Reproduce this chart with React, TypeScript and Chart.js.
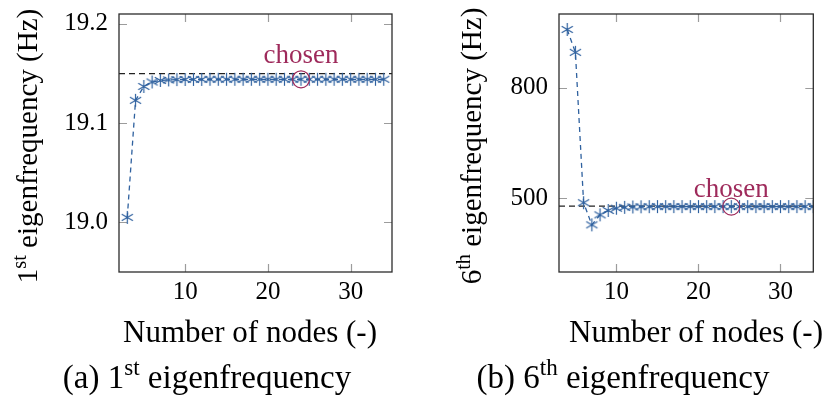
import React, { useEffect, useRef } from "react";
import { Chart, registerables } from "chart.js";

Chart.register(...registerables);

// ---------------- data ----------------
const NODES_A = [3, 4, 5, 6, 7, 8, 9, 10, 11, 12, 13, 14, 15, 16, 17, 18, 19, 20, 21, 22, 23, 24, 25, 26, 27, 28, 29, 30, 31, 32, 33, 34];
const FREQ_1ST = [
  19.005, 19.123, 19.137, 19.1415, 19.143, 19.1436, 19.1439, 19.144, 19.1441, 19.1441, 19.1442,
  19.1442, 19.1442, 19.1442, 19.1442, 19.1442, 19.1442, 19.1442, 19.1442, 19.1442, 19.1442, 19.1442,
  19.1442, 19.1442, 19.1442, 19.1442, 19.1442, 19.1442, 19.1442, 19.1442, 19.1442, 19.1442,
];
const REF_1ST = 19.15;

const NODES_B = [4, 5, 6, 7, 8, 9, 10, 11, 12, 13, 14, 15, 16, 17, 18, 19, 20, 21, 22, 23, 24, 25, 26, 27, 28, 29, 30, 31, 32, 33, 34];
const FREQ_6TH = [
  958, 896, 488, 428, 455, 467, 473, 475.5, 476.5, 477, 477.3, 477.5,
  477.5, 477.5, 477.5, 477.5, 477.5, 477.5, 477.5, 477.5, 477.5, 477.5, 477.5, 477.5,
  477.5, 477.5, 477.5, 477.5, 477.5, 477.5, 477.5,
];
const REF_6TH = 479;

const CHOSEN_NODES = 24;
const CHOSEN_LABEL = "chosen";

const X_TICKS = [10, 20, 30];
const Y_TICKS_A = [19.0, 19.1, 19.2];
const Y_TICKS_B = [500, 800];

const X_RANGE_A = [2, 35];
const Y_RANGE_A = [18.95, 19.21];
const X_RANGE_B = [3, 34];
const Y_RANGE_B = [300, 1000];

const X_TITLE = "Number of nodes (-)";
const Y_TITLE_A = [{ t: "1" }, { t: "st", sup: true }, { t: " eigenfrequency (Hz)" }];
const Y_TITLE_B = [{ t: "6" }, { t: "th", sup: true }, { t: " eigenfrequency (Hz)" }];
const CAPTION_A = [{ t: "(a) 1" }, { t: "st", sup: true }, { t: " eigenfrequency" }];
const CAPTION_B = [{ t: "(b) 6" }, { t: "th", sup: true }, { t: " eigenfrequency" }];

// ---------------- styles ----------------
const FONT = "'Liberation Serif', 'Times New Roman', serif";
const BLUE = "#2f619f";
const CRIMSON = "#9e2a5b";
const FRAME = "#2b2b2b";
const TICK = "#9c9c9c";

type Part = { t: string; sup?: boolean };

function makeAsterisk(r: number, color: string, lw: number) {
  const c = document.createElement("canvas");
  const s = Math.ceil(2 * r + 2 * lw) + 1;
  c.width = s;
  c.height = s;
  const ctx = c.getContext("2d")!;
  ctx.strokeStyle = color;
  ctx.lineWidth = lw;
  ctx.lineCap = "butt";
  const cx = s / 2;
  const cy = s / 2;
  ctx.beginPath();
  for (let k = 0; k < 3; k++) {
    const a = Math.PI / 2 + (k * Math.PI) / 3;
    ctx.moveTo(cx + r * Math.cos(a), cy + r * Math.sin(a));
    ctx.lineTo(cx - r * Math.cos(a), cy - r * Math.sin(a));
  }
  ctx.stroke();
  return c;
}

function drawRich(
  ctx: CanvasRenderingContext2D,
  parts: Part[],
  x: number,
  y: number,
  size: number,
  rotate: boolean
) {
  const supSize = size * 0.7;
  const widths = parts.map((p) => {
    ctx.font = `${p.sup ? supSize : size}px ${FONT}`;
    return ctx.measureText(p.t).width;
  });
  const total = widths.reduce((a, b) => a + b, 0);
  ctx.save();
  ctx.translate(x, y);
  if (rotate) ctx.rotate(-Math.PI / 2);
  ctx.fillStyle = "#000";
  ctx.textBaseline = "alphabetic";
  ctx.textAlign = "left";
  let cx = -total / 2;
  parts.forEach((p, i) => {
    ctx.font = `${p.sup ? supSize : size}px ${FONT}`;
    ctx.fillText(p.t, cx, p.sup ? -size * 0.38 : 0);
    cx += widths[i];
  });
  ctx.restore();
}

const decorPlugin = {
  id: "decor",
  beforeDatasetsDraw(chart: any) {
    const { ctx, chartArea } = chart;
    const xs = chart.scales.x;
    const ys = chart.scales.y;
    const tl = 8;
    ctx.save();
    ctx.strokeStyle = TICK;
    ctx.lineWidth = 1.2;
    ctx.beginPath();
    xs.ticks.forEach((t: any) => {
      const px = Math.round(xs.getPixelForValue(t.value)) + 0.5;
      ctx.moveTo(px, chartArea.bottom);
      ctx.lineTo(px, chartArea.bottom - tl);
      ctx.moveTo(px, chartArea.top);
      ctx.lineTo(px, chartArea.top + tl);
    });
    ys.ticks.forEach((t: any) => {
      const py = Math.round(ys.getPixelForValue(t.value)) + 0.5;
      ctx.moveTo(chartArea.left, py);
      ctx.lineTo(chartArea.left + tl, py);
      ctx.moveTo(chartArea.right, py);
      ctx.lineTo(chartArea.right - tl, py);
    });
    ctx.stroke();
    ctx.restore();
  },
  afterDatasetsDraw(chart: any) {
    const { ctx, chartArea } = chart;
    ctx.save();
    ctx.strokeStyle = FRAME;
    ctx.lineWidth = 1.3;
    ctx.strokeRect(
      chartArea.left,
      chartArea.top,
      chartArea.right - chartArea.left,
      chartArea.bottom - chartArea.top
    );
    ctx.restore();
  },
  afterDraw(chart: any, _args: any, opts: any) {
    const { ctx } = chart;
    const xs = chart.scales.x;
    const ys = chart.scales.y;
    // chosen label
    const px = xs.getPixelForValue(opts.chosenX);
    const py = ys.getPixelForValue(opts.chosenY);
    ctx.save();
    ctx.fillStyle = CRIMSON;
    ctx.font = `27px ${FONT}`;
    ctx.textAlign = "center";
    ctx.textBaseline = "alphabetic";
    ctx.fillText(CHOSEN_LABEL, px, py - opts.labelGap);
    ctx.restore();
    // titles
    drawRich(ctx, opts.yTitle, opts.yTitleX, opts.yTitleY, 29, true);
    drawRich(ctx, [{ t: X_TITLE }], opts.xTitleX, opts.xTitleY, 31, false);
    drawRich(ctx, opts.caption, opts.captionX, opts.captionY, 33, false);
  },
};

function buildConfig(p: {
  nodes: number[];
  values: number[];
  ref: number;
  xRange: number[];
  yRange: number[];
  yTicks: number[];
  yDecimals: number;
  yWidth: number;
  padRight: number;
  decor: any;
}) {
  const chosenIdx = p.nodes.indexOf(CHOSEN_NODES);
  const chosenY = p.values[chosenIdx];
  const star = makeAsterisk(6.5, BLUE, 1.2);
  return {
    type: "line" as const,
    data: {
      datasets: [
        {
          data: p.nodes.map((n, i) => ({ x: n, y: p.values[i] })),
          borderColor: BLUE,
          borderWidth: 1.3,
          borderDash: [5, 4],
          pointStyle: star,
          pointRadius: 3,
          fill: false,
          tension: 0,
          order: 1,
        },
        {
          data: [
            { x: p.xRange[0], y: p.ref },
            { x: p.xRange[1], y: p.ref },
          ],
          borderColor: "#222",
          borderWidth: 1.2,
          borderDash: [6, 4],
          pointRadius: 0,
          fill: false,
          order: 2,
        },
        {
          data: [{ x: CHOSEN_NODES, y: chosenY }],
          showLine: false,
          pointStyle: "circle",
          pointRadius: 8.5,
          borderColor: CRIMSON,
          borderWidth: 1.2,
          backgroundColor: "rgba(0,0,0,0)",
          order: 0,
        },
      ],
    },
    options: {
      animation: false as const,
      responsive: false,
      devicePixelRatio: 1,
      events: [],
      layout: { padding: { left: 0, right: p.padRight, top: 14, bottom: 0 } },
      plugins: {
        legend: { display: false },
        tooltip: { enabled: false },
        decor: { ...p.decor, chosenX: CHOSEN_NODES, chosenY },
      },
      scales: {
        x: {
          type: "linear" as const,
          min: p.xRange[0],
          max: p.xRange[1],
          grid: { display: false, drawTicks: false },
          border: { display: false },
          afterBuildTicks: (s: any) => {
            s.ticks = X_TICKS.map((v) => ({ value: v }));
          },
          afterFit: (s: any) => {
            s.height = 131;
            s.paddingLeft = 0;
            s.paddingRight = 0;
          },
          ticks: {
            color: "#000",
            padding: 5,
            maxRotation: 0,
            font: { family: FONT, size: 25 },
            callback: (v: any) => String(v),
          },
        },
        y: {
          type: "linear" as const,
          min: p.yRange[0],
          max: p.yRange[1],
          grid: { display: false, drawTicks: false },
          border: { display: false },
          afterBuildTicks: (s: any) => {
            s.ticks = p.yTicks.map((v) => ({ value: v }));
          },
          afterFit: (s: any) => {
            s.width = p.yWidth;
            s.paddingTop = 0;
            s.paddingBottom = 0;
          },
          ticks: {
            color: "#000",
            padding: 11,
            font: { family: FONT, size: 25 },
            callback: (v: any) => Number(v).toFixed(p.yDecimals),
          },
        },
      },
    },
    plugins: [decorPlugin],
  };
}

export default function App() {
  const leftRef = useRef<HTMLCanvasElement>(null);
  const rightRef = useRef<HTMLCanvasElement>(null);

  useEffect(() => {
    const c1 = new Chart(
      leftRef.current!,
      buildConfig({
        nodes: NODES_A,
        values: FREQ_1ST,
        ref: REF_1ST,
        xRange: X_RANGE_A,
        yRange: Y_RANGE_A,
        yTicks: Y_TICKS_A,
        yDecimals: 1,
        yWidth: 119,
        padRight: 20,
        decor: {
          labelGap: 16,
          yTitle: Y_TITLE_A,
          yTitleX: 37,
          yTitleY: 146,
          xTitleX: 250,
          xTitleY: 342,
          caption: CAPTION_A,
          captionX: 207,
          captionY: 388,
        },
      }) as any
    );
    const c2 = new Chart(
      rightRef.current!,
      buildConfig({
        nodes: NODES_B,
        values: FREQ_6TH,
        ref: REF_6TH,
        xRange: X_RANGE_B,
        yRange: Y_RANGE_B,
        yTicks: Y_TICKS_B,
        yDecimals: 0,
        yWidth: 147,
        padRight: 1,
        decor: {
          labelGap: 10,
          yTitle: Y_TITLE_B,
          yTitleX: 69,
          yTitleY: 146,
          xTitleX: 284,
          xTitleY: 342,
          caption: CAPTION_B,
          captionX: 211,
          captionY: 388,
        },
      }) as any
    );
    return () => {
      c1.destroy();
      c2.destroy();
    };
  }, []);

  return (
    <div style={{ position: "absolute", left: 0, top: 0, width: 823, height: 403, background: "#fff" }}>
      <canvas ref={leftRef} width={412} height={403} style={{ position: "absolute", left: 0, top: 0 }} />
      <canvas ref={rightRef} width={411} height={403} style={{ position: "absolute", left: 412, top: 0 }} />
    </div>
  );
}
